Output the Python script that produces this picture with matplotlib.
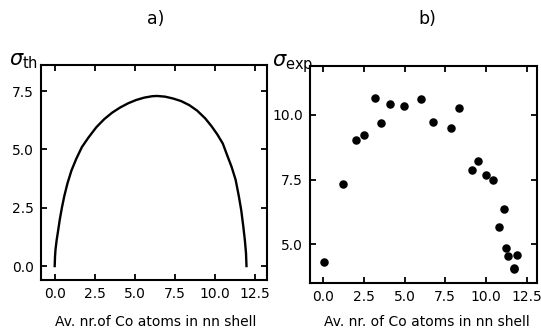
import numpy as np
import matplotlib
matplotlib.use("Agg")
import matplotlib.pyplot as plt

# panel a) theoretical curve
th_x = [0.0, 0.02, 0.05, 0.12, 0.21, 0.32, 0.45, 0.6, 0.8, 1.05, 1.35, 1.7, 2.1,
        2.6, 3.1, 3.6, 4.1, 4.6, 5.1, 5.6, 6.1, 6.4, 6.9, 7.4, 7.9, 8.4, 8.9,
        9.4, 9.8, 10.15, 10.5, 10.8, 11.05, 11.3, 11.5, 11.65, 11.78, 11.88,
        11.95, 11.98]
th_y = [0.0, 0.4, 0.7, 1.1, 1.5, 2.0, 2.5, 3.0, 3.55, 4.1, 4.6, 5.1, 5.5,
        5.95, 6.3, 6.58, 6.8, 6.98, 7.12, 7.22, 7.28, 7.29, 7.26, 7.18, 7.07,
        6.9, 6.66, 6.33, 5.99, 5.65, 5.25, 4.7, 4.25, 3.7, 3.0, 2.4, 1.7,
        1.1, 0.55, 0.0]

# panel b) experimental points
exp_x = [0.06, 1.23, 2.03, 2.52, 3.18, 3.55, 4.08, 4.96, 5.99, 6.72, 7.83, 8.34,
         9.16, 9.53, 9.98, 10.41, 10.80, 11.11, 11.21, 11.37, 11.70, 11.72, 11.89]
exp_y = [4.33, 7.33, 9.01, 9.23, 10.66, 9.69, 10.41, 10.35, 10.61, 9.74, 9.51, 10.27,
         7.87, 8.22, 7.68, 7.47, 5.68, 6.35, 4.87, 4.55, 4.06, 4.10, 4.60]

x_ticks = [0.0, 2.5, 5.0, 7.5, 10.0, 12.5]
a_yticks = [0.0, 2.5, 5.0, 7.5]
b_yticks = [5.0, 7.5, 10.0]

plt.rcParams['font.family'] = 'DejaVu Sans'

fig = plt.figure(figsize=(5.41, 3.33), dpi=100)
axa = fig.add_axes([0.0752, 0.159, 0.418, 0.646])
axb = fig.add_axes([0.573, 0.151, 0.419, 0.652])


def style(ax):
    ax.tick_params(direction='in', top=True, right=True, length=4.5, width=1.3,
                   labelsize=10, pad=5)
    for s in ax.spines.values():
        s.set_linewidth(1.5)
    ax.set_xticks(x_ticks)
    ax.set_xticklabels([f"{t:.1f}" for t in x_ticks])
    ax.tick_params(axis='x', labeltop=False)


axa.plot(th_x, th_y, color='black', lw=1.7)
axa.set_xlim(-0.875, 13.25)
axa.set_ylim(-0.6, 8.62)
style(axa)
axa.set_yticks(a_yticks)
axa.set_yticklabels([f"{t:.1f}" for t in a_yticks])

axb.scatter(exp_x, exp_y, s=26, color='black', zorder=3)
axb.set_xlim(-0.82, 13.12)
axb.set_ylim(3.52, 11.9)
style(axb)
axb.set_yticks(b_yticks)
axb.set_yticklabels([f"{t:.1f}" for t in b_yticks])

fig.text(0.287, 0.943, "a)", ha='center', va='center', fontsize=12.5)
fig.text(0.789, 0.943, "b)", ha='center', va='center', fontsize=12.5)
fig.text(0.016, 0.818, r"$\sigma_{\rm th}$", ha='left', va='center', fontsize=15)
fig.text(0.502, 0.81, r"$\sigma_{\rm exp}$", ha='left', va='center', fontsize=15)
fig.text(0.287, 0.033, "Av. nr.of Co atoms in nn shell", ha='center', va='center', fontsize=10)
fig.text(0.789, 0.033, "Av. nr. of Co atoms in nn shell", ha='center', va='center', fontsize=10)

fig.savefig("out.png", dpi=100)
